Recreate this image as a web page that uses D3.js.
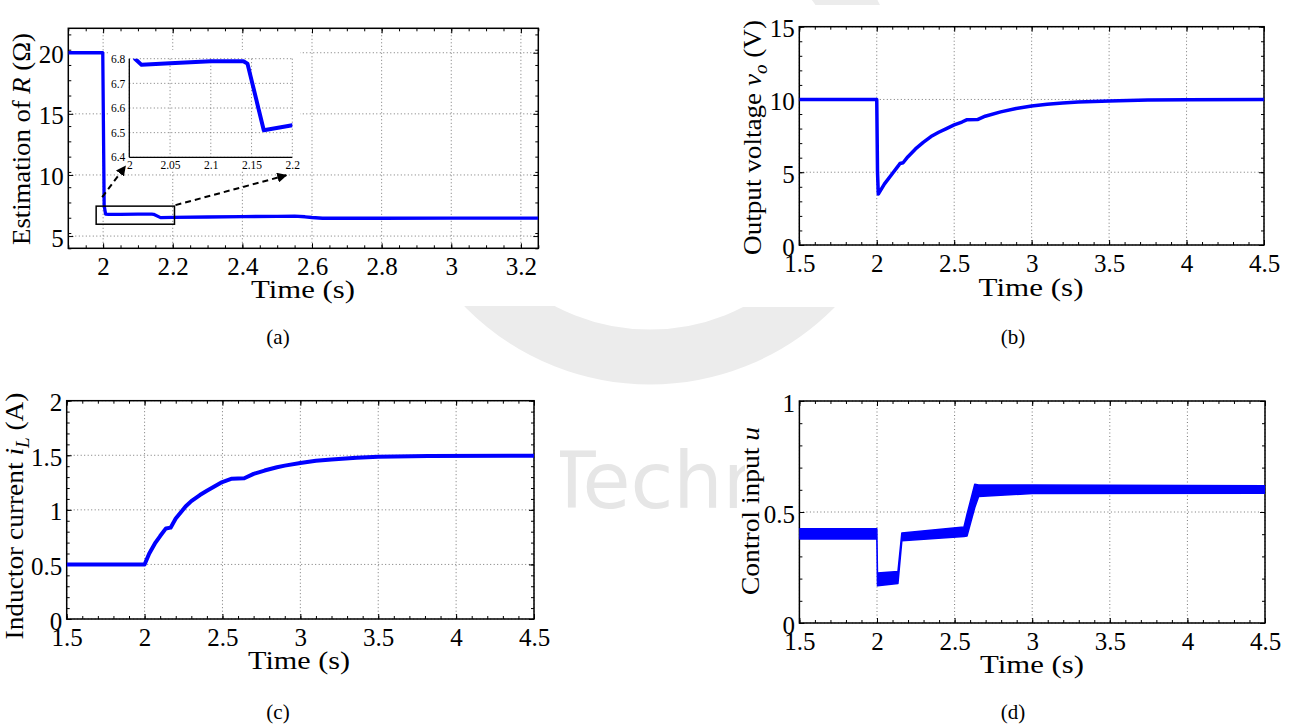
<!DOCTYPE html>
<html>
<head>
<meta charset="utf-8">
<script src="https://cdn.jsdelivr.net/npm/d3@7"></script>
<style>
  body { margin: 0; background: #fff; }
  svg { display: block; }
</style>
</head>
<body>
<script>
// ---- data ----
// (a) estimation of R, also used for the zoomed inset
var rTime  = [1.9, 1.999, 2.003, 2.007, 2.015, 2.05, 2.1, 2.14, 2.145, 2.165, 2.2, 2.3, 2.4, 2.5, 2.55, 2.58, 2.6, 2.63, 2.8, 3.0, 3.25];
var rValue = [20, 20, 7.5, 6.8, 6.775, 6.782, 6.79, 6.79, 6.78, 6.51, 6.53, 6.56, 6.59, 6.62, 6.63, 6.58, 6.52, 6.46, 6.46, 6.47, 6.47];
// (b) output voltage
var vTime  = [1.5, 2.0, 2.005, 2.01, 2.05, 2.1, 2.14, 2.15, 2.17, 2.2, 2.25, 2.3, 2.35, 2.4, 2.45, 2.5, 2.55, 2.58, 2.65, 2.7, 2.8, 2.9, 3.0, 3.1, 3.2, 3.3, 3.5, 3.75, 4.0, 4.5];
var vValue = [10, 10, 5.0, 3.5, 4.2, 4.9, 5.45, 5.6, 5.65, 6.05, 6.6, 7.05, 7.45, 7.75, 8.0, 8.25, 8.45, 8.6, 8.62, 8.85, 9.15, 9.38, 9.55, 9.67, 9.76, 9.82, 9.9, 9.96, 9.98, 10.0];
// (c) inductor current
var iTime  = [1.5, 2.0, 2.03, 2.07, 2.1, 2.137, 2.167, 2.2, 2.263, 2.3, 2.355, 2.4, 2.49, 2.56, 2.64, 2.7, 2.77, 2.85, 2.9, 3.0, 3.1, 3.2, 3.36, 3.5, 3.82, 4.5];
var iValue = [0.5, 0.5, 0.6, 0.7, 0.76, 0.83, 0.837, 0.92, 1.03, 1.08, 1.136, 1.175, 1.249, 1.285, 1.29, 1.33, 1.36, 1.39, 1.405, 1.43, 1.45, 1.462, 1.478, 1.487, 1.493, 1.496];
// (d) control input: switching band, upper and lower envelope
var uTime  = [1.5, 1.999, 2.003, 2.135, 2.16, 2.56, 2.58, 2.63, 2.655, 3.0, 4.5];
var uUpper = [0.425, 0.425, 0.225, 0.232, 0.405, 0.432, 0.49, 0.625, 0.622, 0.622, 0.618];
var uLower = [0.378, 0.378, 0.168, 0.178, 0.37, 0.39, 0.392, 0.52, 0.57, 0.583, 0.585];

// ticks
var xTicksA = [2, 2.2, 2.4, 2.6, 2.8, 3, 3.2];
var yTicksA = [5, 10, 15, 20];
var xTicksInset = [2, 2.05, 2.1, 2.15, 2.2];
var yTicksInset = [6.4, 6.5, 6.6, 6.7, 6.8];
var xTicksT = [1.5, 2, 2.5, 3, 3.5, 4, 4.5];
var yTicksV = [0, 5, 10, 15];
var yTicksI = [0, 0.5, 1, 1.5, 2];
var yTicksU = [0, 0.5, 1];
var zoomBox = {x0: 1.98, x1: 2.205, y0: 5.97, y1: 7.45};

var W = 1303, H = 728;
var serif = "Liberation Serif";
var blue = "#0000ff";

var svg = d3.select("body").append("svg")
    .attr("width", W)
    .attr("height", H);

// faint watermark behind the panels
var wm = svg.append("g").attr("fill", "none");
wm.append("circle").attr("cx", 650).attr("cy", 125).attr("r", 232)
    .attr("stroke", "#ececec").attr("stroke-width", 55);
wm.append("text").attr("x", 548).attr("y", 508)
    .attr("font-family", "'DejaVu Sans', sans-serif").attr("font-size", 78)
    .attr("fill", "#e6e6e6").text("Technology");

// white panel backgrounds
[[0, 0, 560, 306], [742, 5, 561, 302], [0, 380, 560, 348], [745, 380, 558, 348]].forEach(function(r) {
    svg.append("rect").attr("x", r[0]).attr("y", r[1]).attr("width", r[2]).attr("height", r[3]).attr("fill", "#fff");
});

function range(a, b, step) {
    var out = [];
    var n = Math.round((b - a) / step);
    for (var k = 0; k <= n; k++) out.push(+(a + k * step).toFixed(6));
    return out;
}

function styleTicks(g, size) {
    g.attr("font-family", serif);
    g.select(".domain").remove();
    g.selectAll("line").attr("stroke", "#000").attr("stroke-width", 1);
    g.selectAll("text").attr("font-family", serif).attr("font-size", size).attr("fill", "#000");
}

function panel(cfg) {
    var g = svg.append("g");
    var x = d3.scaleLinear().domain(cfg.xDomain).range([cfg.left, cfg.right]);
    var y = d3.scaleLinear().domain(cfg.yDomain).range([cfg.bottom, cfg.top]);

    // dotted grid
    g.selectAll(".gx").data(cfg.xTicks).join("line")
        .attr("x1", d => x(d)).attr("x2", d => x(d))
        .attr("y1", cfg.top).attr("y2", cfg.bottom)
        .attr("stroke", "#777").attr("stroke-width", 1).attr("stroke-dasharray", "1,2.5");
    g.selectAll(".gy").data(cfg.yTicks).join("line")
        .attr("x1", cfg.left).attr("x2", cfg.right)
        .attr("y1", d => y(d)).attr("y2", d => y(d))
        .attr("stroke", "#777").attr("stroke-width", 1).attr("stroke-dasharray", "1,2.5");

    var xMinor = range(cfg.xDomain[0], cfg.xDomain[1], cfg.xMinor);
    var yMinor = range(cfg.yDomain[0], cfg.yDomain[1], cfg.yMinor);

    // ticks on all four sides, pointing in
    var ax = g.append("g").attr("transform", "translate(0," + cfg.bottom + ")")
        .call(d3.axisBottom(x).tickValues(cfg.xTicks).tickSizeInner(-5).tickSizeOuter(0).tickPadding(9).tickFormat(d3.format("~g")));
    styleTicks(ax, 25);
    var ay = g.append("g").attr("transform", "translate(" + cfg.left + ",0)")
        .call(d3.axisLeft(y).tickValues(cfg.yTicks).tickSizeInner(-5).tickSizeOuter(0).tickPadding(4.5).tickFormat(d3.format("~g")));
    styleTicks(ay, 25);
    ay.selectAll("text").attr("dy", "0.4em");
    styleTicks(g.append("g").attr("transform", "translate(0," + cfg.top + ")")
        .call(d3.axisTop(x).tickValues(cfg.xTicks).tickSizeInner(-5).tickSizeOuter(0).tickFormat("")), 10);
    styleTicks(g.append("g").attr("transform", "translate(" + cfg.right + ",0)")
        .call(d3.axisRight(y).tickValues(cfg.yTicks).tickSizeInner(-5).tickSizeOuter(0).tickFormat("")), 10);
    // minor ticks
    styleTicks(g.append("g").attr("transform", "translate(0," + cfg.bottom + ")")
        .call(d3.axisBottom(x).tickValues(xMinor).tickSizeInner(-3).tickSizeOuter(0).tickFormat("")), 10);
    styleTicks(g.append("g").attr("transform", "translate(0," + cfg.top + ")")
        .call(d3.axisTop(x).tickValues(xMinor).tickSizeInner(-3).tickSizeOuter(0).tickFormat("")), 10);
    styleTicks(g.append("g").attr("transform", "translate(" + cfg.left + ",0)")
        .call(d3.axisLeft(y).tickValues(yMinor).tickSizeInner(-3).tickSizeOuter(0).tickFormat("")), 10);
    styleTicks(g.append("g").attr("transform", "translate(" + cfg.right + ",0)")
        .call(d3.axisRight(y).tickValues(yMinor).tickSizeInner(-3).tickSizeOuter(0).tickFormat("")), 10);

    // box
    g.append("rect").attr("x", cfg.left).attr("y", cfg.top)
        .attr("width", cfg.right - cfg.left).attr("height", cfg.bottom - cfg.top)
        .attr("fill", "none").attr("stroke", "#000").attr("stroke-width", 1.5);

    var clipId = "clip" + cfg.id;
    svg.append("clipPath").attr("id", clipId).append("rect")
        .attr("x", cfg.left).attr("y", cfg.top - 3)
        .attr("width", cfg.right - cfg.left).attr("height", cfg.bottom - cfg.top + 6);
    var plot = g.append("g").attr("clip-path", "url(#" + clipId + ")");

    return {g: g, x: x, y: y, plot: plot};
}

function title(cx, cy, rot, parts, len, size) {
    var g = svg.append("g").attr("transform", "translate(" + cx + "," + cy + ") rotate(" + rot + ")");
    var t = g.append("text").attr("text-anchor", "middle")
        .attr("font-family", serif).attr("font-size", size).attr("fill", "#000");
    var shifted = false;
    parts.forEach(function(p) {
        var s = t.append("tspan").text(p.t);
        if (p.it) s.attr("font-style", "italic");
        if (p.sub) { s.attr("font-size", size * 0.7).attr("dy", size * 0.22); shifted = true; }
        else if (shifted) { s.attr("dy", -size * 0.22); shifted = false; }
    });
    var w = t.node().getComputedTextLength();
    t.attr("transform", "scale(" + (len / w) + ",1)");
}

function caption(cx, cy, txt) {
    svg.append("text").attr("x", cx).attr("y", cy).attr("text-anchor", "middle")
        .attr("font-family", serif).attr("font-size", 21).text(txt);
}

function lineOf(xs, ys, p) {
    return d3.line().x((d, k) => p.x(xs[k])).y((d, k) => p.y(ys[k]))(xs);
}

// ---------- (a) ----------
var pa = panel({id: "a", left: 68.3, right: 538.3, top: 28.3, bottom: 248.3,
    xDomain: [1.9, 3.25], yDomain: [4, 22], xTicks: xTicksA, yTicks: yTicksA, xMinor: 0.05, yMinor: 1.25});
pa.plot.append("path").attr("d", lineOf(rTime, rValue, pa))
    .attr("fill", "none").attr("stroke", blue).attr("stroke-width", 3.3).attr("stroke-linejoin", "round");

// zoom rectangle
pa.g.append("rect")
    .attr("x", pa.x(zoomBox.x0)).attr("y", pa.y(zoomBox.y1))
    .attr("width", pa.x(zoomBox.x1) - pa.x(zoomBox.x0))
    .attr("height", pa.y(zoomBox.y0) - pa.y(zoomBox.y1))
    .attr("fill", "none").attr("stroke", "#000").attr("stroke-width", 1.5);

// inset
var inset = {left: 129.3, right: 292.3, top: 58.7, bottom: 157.3};
var ix = d3.scaleLinear().domain([2, 2.2]).range([inset.left, inset.right]);
var iy = d3.scaleLinear().domain([6.4, 6.8]).range([inset.bottom, inset.top]);
var ig = svg.append("g");
ig.append("rect").attr("x", 108).attr("y", 50).attr("width", 192).attr("height", 120).attr("fill", "#fff");
ig.selectAll(".igx").data(xTicksInset).join("line")
    .attr("x1", d => ix(d)).attr("x2", d => ix(d)).attr("y1", inset.top).attr("y2", inset.bottom)
    .attr("stroke", "#777").attr("stroke-dasharray", "1,2.5");
ig.selectAll(".igy").data(yTicksInset).join("line")
    .attr("x1", inset.left).attr("x2", inset.right).attr("y1", d => iy(d)).attr("y2", d => iy(d))
    .attr("stroke", "#777").attr("stroke-dasharray", "1,2.5");
var iax = ig.append("g").attr("transform", "translate(0," + inset.bottom + ")")
    .call(d3.axisBottom(ix).tickValues(xTicksInset).tickSize(0).tickPadding(4).tickFormat(d3.format("~g")));
styleTicks(iax, 11.5);
var iay = ig.append("g").attr("transform", "translate(" + inset.left + ",0)")
    .call(d3.axisLeft(iy).tickValues(yTicksInset).tickSize(0).tickPadding(4).tickFormat(d3.format("~g")));
styleTicks(iay, 11.5);
ig.append("line").attr("x1", inset.left).attr("x2", inset.left).attr("y1", inset.top).attr("y2", inset.bottom).attr("stroke", "#000").attr("stroke-width", 1.3);
ig.append("line").attr("x1", inset.left).attr("x2", inset.right).attr("y1", inset.bottom).attr("y2", inset.bottom).attr("stroke", "#000").attr("stroke-width", 1.3);
svg.append("clipPath").attr("id", "clipInset").append("rect")
    .attr("x", inset.left).attr("y", inset.top).attr("width", inset.right - inset.left).attr("height", inset.bottom - inset.top);
ig.append("path").attr("clip-path", "url(#clipInset)")
    .attr("d", d3.line().x((d, k) => ix(rTime[k])).y((d, k) => iy(rValue[k]))(rTime))
    .attr("fill", "none").attr("stroke", blue).attr("stroke-width", 4).attr("stroke-linejoin", "round");

// dashed arrows from the zoom box to the inset
var defs = svg.append("defs");
defs.append("marker").attr("id", "head").attr("viewBox", "0 0 10 10")
    .attr("refX", 9).attr("refY", 5).attr("markerWidth", 5).attr("markerHeight", 5)
    .attr("orient", "auto").attr("markerUnits", "strokeWidth")
    .append("path").attr("d", "M0,0 L10,5 L0,10 Z").attr("fill", "#000");
var bx0 = pa.x(zoomBox.x0), bx1 = pa.x(zoomBox.x1), by1 = pa.y(zoomBox.y1);
[[bx0 + 6, by1 - 9, ix(2) - 4, iy(6.4) + 9], [bx1 + 1, by1 - 1, ix(2.2) - 6, iy(6.4) + 18]].forEach(function(a) {
    svg.append("line").attr("x1", a[0]).attr("y1", a[1]).attr("x2", a[2]).attr("y2", a[3])
        .attr("stroke", "#000").attr("stroke-width", 2).attr("stroke-dasharray", "6,4")
        .attr("marker-end", "url(#head)");
});

title(303, 298, 0, [{t: "Time (s)"}], 104, 26);
title(30, 139, -90, [{t: "Estimation of "}, {t: "R", it: true}, {t: " (Ω)"}], 212, 26);
caption(278, 344, "(a)");

// ---------- (b) ----------
var pb = panel({id: "b", left: 799.3, right: 1264, top: 26.7, bottom: 245,
    xDomain: [1.5, 4.5], yDomain: [0, 15], xTicks: xTicksT, yTicks: yTicksV, xMinor: 0.1, yMinor: 1});
pb.plot.append("path").attr("d", lineOf(vTime, vValue, pb))
    .attr("fill", "none").attr("stroke", blue).attr("stroke-width", 3.5).attr("stroke-linejoin", "round");
title(1031, 296, 0, [{t: "Time (s)"}], 105, 26);
title(761, 137.5, -90, [{t: "Output voltage "}, {t: "v", it: true}, {t: "o", it: true, sub: true}, {t: " (V)"}], 235, 26);
caption(1013, 344, "(b)");

// ---------- (c) ----------
var pc = panel({id: "c", left: 66.7, right: 534, top: 400.7, bottom: 619,
    xDomain: [1.5, 4.5], yDomain: [0, 2], xTicks: xTicksT, yTicks: yTicksI, xMinor: 0.1, yMinor: 0.1});
pc.plot.append("path").attr("d", lineOf(iTime, iValue, pc))
    .attr("fill", "none").attr("stroke", blue).attr("stroke-width", 4).attr("stroke-linejoin", "round");
title(299, 669, 0, [{t: "Time (s)"}], 102, 26);
title(23, 516, -90, [{t: "Inductor current "}, {t: "i", it: true}, {t: "L", it: true, sub: true}, {t: " (A)"}], 247, 26);
caption(278, 719, "(c)");

// ---------- (d) ----------
var pd = panel({id: "d", left: 799.4, right: 1265, top: 401, bottom: 623,
    xDomain: [1.5, 4.5], yDomain: [0, 1], xTicks: xTicksT, yTicks: yTicksU, xMinor: 0.1, yMinor: 0.1});
pd.plot.append("path")
    .attr("d", d3.area()
        .x((d, k) => pd.x(uTime[k]))
        .y0((d, k) => pd.y(uLower[k]))
        .y1((d, k) => pd.y(uUpper[k]))(uTime))
    .attr("fill", blue).attr("stroke", blue).attr("stroke-width", 1.5).attr("stroke-linejoin", "round");
title(1032, 673, 0, [{t: "Time (s)"}], 104, 26);
title(758.5, 511, -90, [{t: "Control input "}, {t: "u", it: true}], 168, 26);
caption(1013, 719, "(d)");
</script>
</body>
</html>
